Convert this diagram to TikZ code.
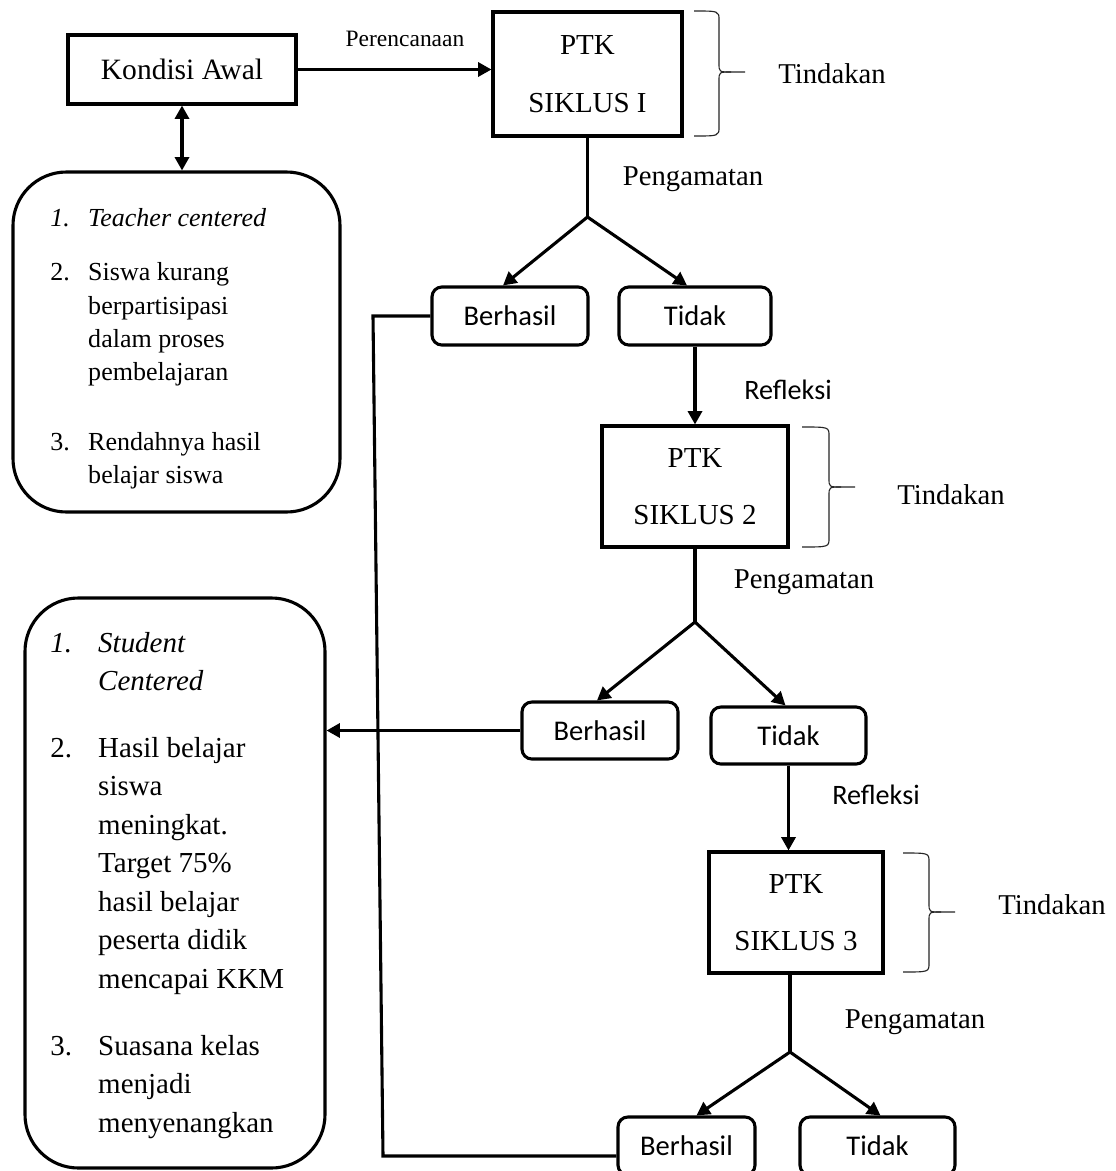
\documentclass[tikz,border=0pt]{standalone}
\usepackage{fontspec}
\setmainfont{Liberation Serif}
\newfontfamily\calfont{Carlito}
\usetikzlibrary{arrows.meta,calc}
\newcommand\pxu{0.025cm}
\begin{document}
\begin{tikzpicture}[x=0.025cm,y=-0.025cm,
  sqbox/.style={draw, line width=2.2pt, align=center, inner sep=0pt, font=\fontsize{20.6}{41}\selectfont},
  rbox/.style={draw, line width=2.2pt, rounded corners=7pt, inner sep=0pt, font=\calfont\fontsize{20.3}{24}\selectfont},
  bigbox/.style={draw, line width=2.2pt, rounded corners=38pt, inner sep=0pt},
  conn/.style={line width=2.2pt},
  arr/.style={conn, -{Triangle[length=9.5pt,width=10pt]}},
  darr/.style={conn, {Triangle[length=9.5pt,width=10pt]}-{Triangle[length=9.5pt,width=10pt]}},
  brace/.style={line width=0.8pt, draw=black!85},
  lbl/.style={anchor=base, inner sep=0pt, font=\fontsize{20.4}{24}\selectfont},
  clbl/.style={anchor=base, inner sep=0pt, font=\calfont\fontsize{20}{24}\selectfont}
]
\useasboundingbox (0,0) rectangle (1116,1171);
\fill[white] (0,0) rectangle (1116,1171);
\clip (0,0) rectangle (1116,1171);

% main nodes
\node[sqbox, minimum width=228*\pxu, minimum height=69*\pxu, font=\fontsize{21}{25}\selectfont] (kondisi) at (182,69.5) {Kondisi Awal};
\node[sqbox, minimum width=189*\pxu, minimum height=124*\pxu] (ptk1) at (587.5,74) {PTK\\SIKLUS I};
\node[sqbox, minimum width=186*\pxu, minimum height=121*\pxu] (ptk2) at (695,486.5) {PTK\\SIKLUS 2};
\node[sqbox, minimum width=174*\pxu, minimum height=121*\pxu] (ptk3) at (796,912.5) {PTK\\SIKLUS 3};

\node[rbox, minimum width=156*\pxu, minimum height=58*\pxu] (berhasil1) at (510,316) {Berhasil};
\node[rbox, minimum width=152*\pxu, minimum height=58*\pxu] (tidak1) at (695,316) {Tidak};
\node[rbox, minimum width=156*\pxu, minimum height=57*\pxu] (berhasil2) at (600,730.5) {Berhasil};
\node[rbox, minimum width=155*\pxu, minimum height=57*\pxu] (tidak2) at (788.5,735.5) {Tidak};
\node[rbox, minimum width=137*\pxu, minimum height=58*\pxu] (berhasil3) at (686.5,1146) {Berhasil};
\node[rbox, minimum width=155*\pxu, minimum height=58*\pxu] (tidak3) at (877.5,1146) {Tidak};

% big rounded boxes
\node[bigbox, minimum width=327*\pxu, minimum height=340*\pxu] (box1) at (176.5,342) {};
\node[bigbox, minimum width=300*\pxu, minimum height=570*\pxu] (box2) at (175,883) {};

\node[anchor=base west, inner sep=0pt, font=\fontsize{18.5}{23.5}\selectfont] (list1) at (50,226)
{\begin{tabular}[t]{@{}p{27pt}@{}l@{}}
\textit{1.} & \textit{Teacher centered}\\[15.6pt]
2. & Siswa kurang\\
 & berpartisipasi\\
 & dalam proses\\
 & pembelajaran\\[26.3pt]
3. & Rendahnya hasil\\
 & belajar siswa
\end{tabular}};

\node[anchor=base west, inner sep=0pt, font=\fontsize{20.6}{27.4}\selectfont] (list2) at (50,652)
{\begin{tabular}[t]{@{}p{34.1pt}@{}l@{}}
\textit{1.} & \textit{Student}\\
 & \textit{Centered}\\[19.9pt]
2. & Hasil belajar\\
 & siswa\\
 & meningkat.\\
 & Target 75\%\\
 & hasil belajar\\
 & peserta didik\\
 & mencapai KKM\\[20.3pt]
3. & Suasana kelas\\
 & menjadi\\
 & menyenangkan
\end{tabular}};

% labels
\node[lbl, font=\fontsize{16.7}{20}\selectfont] (perenc) at (405,46) {Perencanaan};
\node[lbl] (tind1) at (832,83) {Tindakan};
\node[lbl] (tind2) at (951,504) {Tindakan};
\node[lbl] (tind3) at (1052,914) {Tindakan};
\node[lbl] (peng1) at (693,185) {Pengamatan};
\node[lbl] (peng2) at (804,588) {Pengamatan};
\node[lbl] (peng3) at (915,1028) {Pengamatan};
\node[clbl] (ref1) at (788,399) {Refleksi};
\node[clbl] (ref2) at (876,804) {Refleksi};

% braces
\draw[brace] (694,11) .. controls (719,11) .. (719,20) -- (719,63) .. controls (719,72) .. (731,72) -- (745,72);
\draw[brace] (731,72) .. controls (719,72) .. (719,81) -- (719,127) .. controls (719,136) .. (694,136);
\draw[brace] (802,427) .. controls (829,427) .. (829,436) -- (829,478) .. controls (829,487) .. (841,487) -- (855,487);
\draw[brace] (841,487) .. controls (829,487) .. (829,496) -- (829,538) .. controls (829,547) .. (802,547);
\draw[brace] (903,853) .. controls (929,853) .. (929,862) -- (929,903) .. controls (929,912) .. (941,912) -- (955,912);
\draw[brace] (941,912) .. controls (929,912) .. (929,921) -- (929,963) .. controls (929,972) .. (903,972);

% connectors
\draw[arr] (kondisi.east) -- (kondisi.east -| ptk1.west);
\draw[darr] (kondisi.south) -- (kondisi.south |- box1.north);

\coordinate (br1) at (587.5,217);
\draw[conn] (ptk1.south) -- (br1);
\draw[arr] (br1) -- ($(berhasil1.north)+(-7,0)$);
\draw[arr] (br1) -- ($(tidak1.north)+(-8,0)$);
\draw[arr] (tidak1.south) -- (ptk2.north);

\coordinate (br2) at (695,622);
\draw[conn] (ptk2.south) -- (br2);
\draw[arr] (br2) -- ($(berhasil2.north)+(-3,0)$);
\draw[arr] (br2) -- ($(tidak2.north)+(-3,0)$);
\draw[arr] (berhasil2.west) -- (berhasil2.west -| box2.east);
\draw[arr] (tidak2.south) -- (tidak2.south |- ptk3.north);

\coordinate (br3) at (790,1052);
\draw[conn] (ptk3.south -| br3) -- (br3);
\draw[arr] (br3) -- ($(berhasil3.north)+(10,0)$);
\draw[arr] (br3) -- ($(tidak3.north)+(3,0)$);

\coordinate (c1) at (373,316);
\coordinate (c2) at (383,1156);
\draw[conn] (berhasil1.west) -- (c1) -- (c2) -- (c2 -| berhasil3.west);
\end{tikzpicture}
\end{document}
